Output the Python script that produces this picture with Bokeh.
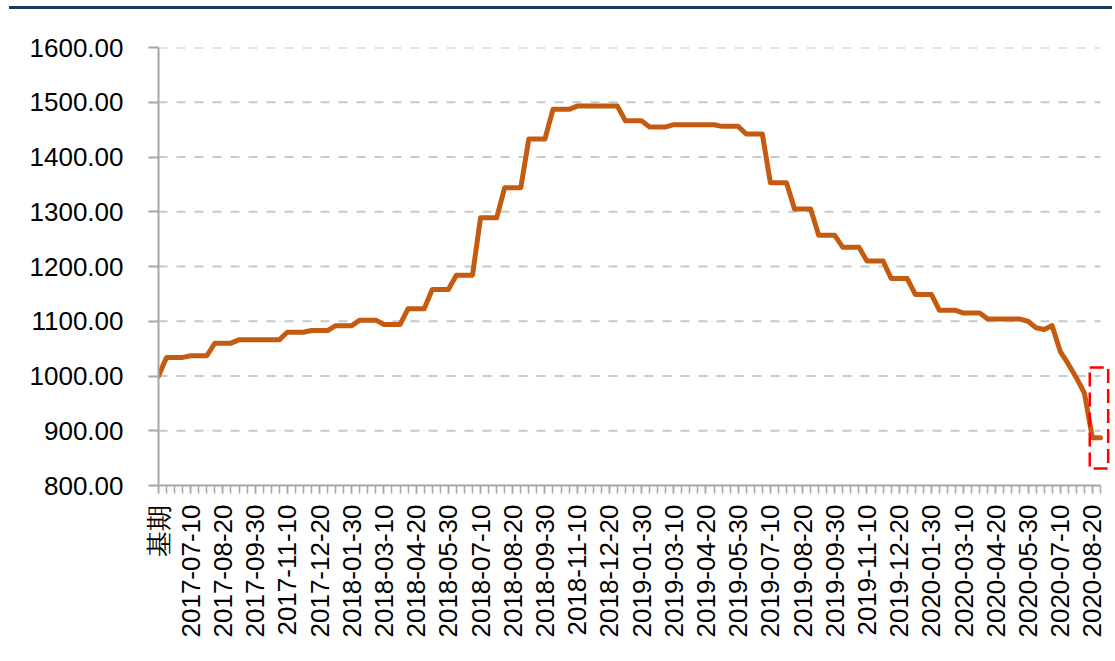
import math
from bokeh.plotting import figure
from bokeh.models import Range1d, FixedTicker, NumeralTickFormatter, Div
from bokeh.layouts import column
from bokeh.embed import file_html
from bokeh.resources import INLINE

# ---- data ----
tick_labels = ["基期", "2017-07-10", "2017-08-20", "2017-09-30", "2017-11-10", "2017-12-20",
               "2018-01-30", "2018-03-10", "2018-04-20", "2018-05-30", "2018-07-10", "2018-08-20",
               "2018-09-30", "2018-11-10", "2018-12-20", "2019-01-30", "2019-03-10", "2019-04-20",
               "2019-05-30", "2019-07-10", "2019-08-20", "2019-09-30", "2019-11-10", "2019-12-20",
               "2020-01-30", "2020-03-10", "2020-04-20", "2020-05-30", "2020-07-10", "2020-08-20"]
label_step = 4

values = [1000,
          1034, 1034, 1034,
          1037, 1037, 1037,
          1060, 1060, 1060,
          1066, 1066, 1066, 1066, 1066, 1066,
          1080, 1080, 1080,
          1083, 1083, 1083,
          1092, 1092, 1092,
          1102, 1102, 1102,
          1094, 1094, 1094,
          1123, 1123, 1123,
          1158, 1158, 1158,
          1184, 1184, 1184,
          1289, 1289, 1289,
          1344, 1344, 1344,
          1433, 1433, 1433,
          1487, 1487, 1487,
          1493, 1493, 1493, 1493, 1493, 1493,
          1466, 1466, 1466,
          1455, 1455, 1455,
          1459, 1459, 1459, 1459, 1459, 1459,
          1456, 1456, 1456,
          1442, 1442, 1442,
          1353, 1353, 1353,
          1305, 1305, 1305,
          1257, 1257, 1257,
          1235, 1235, 1235,
          1210, 1210, 1210,
          1178, 1178, 1178,
          1149, 1149, 1149,
          1120, 1120, 1120,
          1115, 1115, 1115,
          1104, 1104, 1104, 1104, 1104,
          1100, 1088, 1085, 1092, 1045, 1022, 997, 969, 887, 887]

y_ticks = [800, 900, 1000, 1100, 1200, 1300, 1400, 1500, 1600]

n = len(values)
xs = list(range(n))
last = n - 1

FONT = "Liberation Sans"
AXIS_COLOR = "#A6A6A6"
NAVY = "#1F3864"
W = 1112

# ---- top rule (decoration) ----
rule = Div(text="", width=W - 9, height=3, margin=(6, 0, 0, 9),
           styles={"background-color": NAVY})

# ---- main chart ----
p = figure(width=W, height=640, output_backend="svg", toolbar_location=None,
           x_range=Range1d(0, (W - 158) / 8.051), y_range=Range1d(800, 1600),
           min_border_left=158, min_border_right=0, min_border_top=38, min_border_bottom=164)
p.outline_line_color = None
p.xgrid.visible = False
p.ygrid.visible = False

gy = [v for v in y_ticks if v > y_ticks[0]]
p.segment(x0=[0] * len(gy), x1=[last] * len(gy), y0=gy, y1=gy,
          line_color="#C8C8C8", line_width=2, line_dash="9 9")

p.line(xs, values, line_color="#C55A11", line_width=5, line_join="round", line_cap="round")

p.quad(left=[115.67], right=[117.96], top=[1015.5], bottom=[831],
       fill_color=None, line_color="#FF0000", line_width=2.5, line_dash="14 6")

xa = p.xaxis[0]
major = list(range(0, n, label_step))
xa.ticker = FixedTicker(ticks=major, minor_ticks=xs)
xa.major_label_overrides = {major[i]: tick_labels[i] for i in range(len(tick_labels))}
xa.bounds = (0, last)
xa.major_label_orientation = math.pi / 2
xa.major_label_text_font = FONT
xa.major_label_text_font_size = "26px"
xa.major_label_text_color = "#000000"
xa.major_label_standoff = 11
xa.axis_line_color = AXIS_COLOR
xa.axis_line_width = 2
xa.major_tick_in = 0
xa.major_tick_out = 8
xa.minor_tick_in = 0
xa.minor_tick_out = 8
xa.major_tick_line_color = AXIS_COLOR
xa.minor_tick_line_color = AXIS_COLOR
xa.major_tick_line_width = 1.5
xa.minor_tick_line_width = 1.5

ya = p.yaxis[0]
ya.ticker = FixedTicker(ticks=y_ticks, minor_ticks=[])
ya.formatter = NumeralTickFormatter(format="0.00")
ya.major_label_text_font = FONT
ya.major_label_text_font_size = "26px"
ya.major_label_text_color = "#000000"
ya.major_label_standoff = 25
ya.axis_line_color = AXIS_COLOR
ya.axis_line_width = 2
ya.major_tick_in = 0
ya.major_tick_out = 10
ya.major_tick_line_color = AXIS_COLOR
ya.major_tick_line_width = 2

layout = column(rule, p)
open("out.html", "w").write(file_html(layout, INLINE))
